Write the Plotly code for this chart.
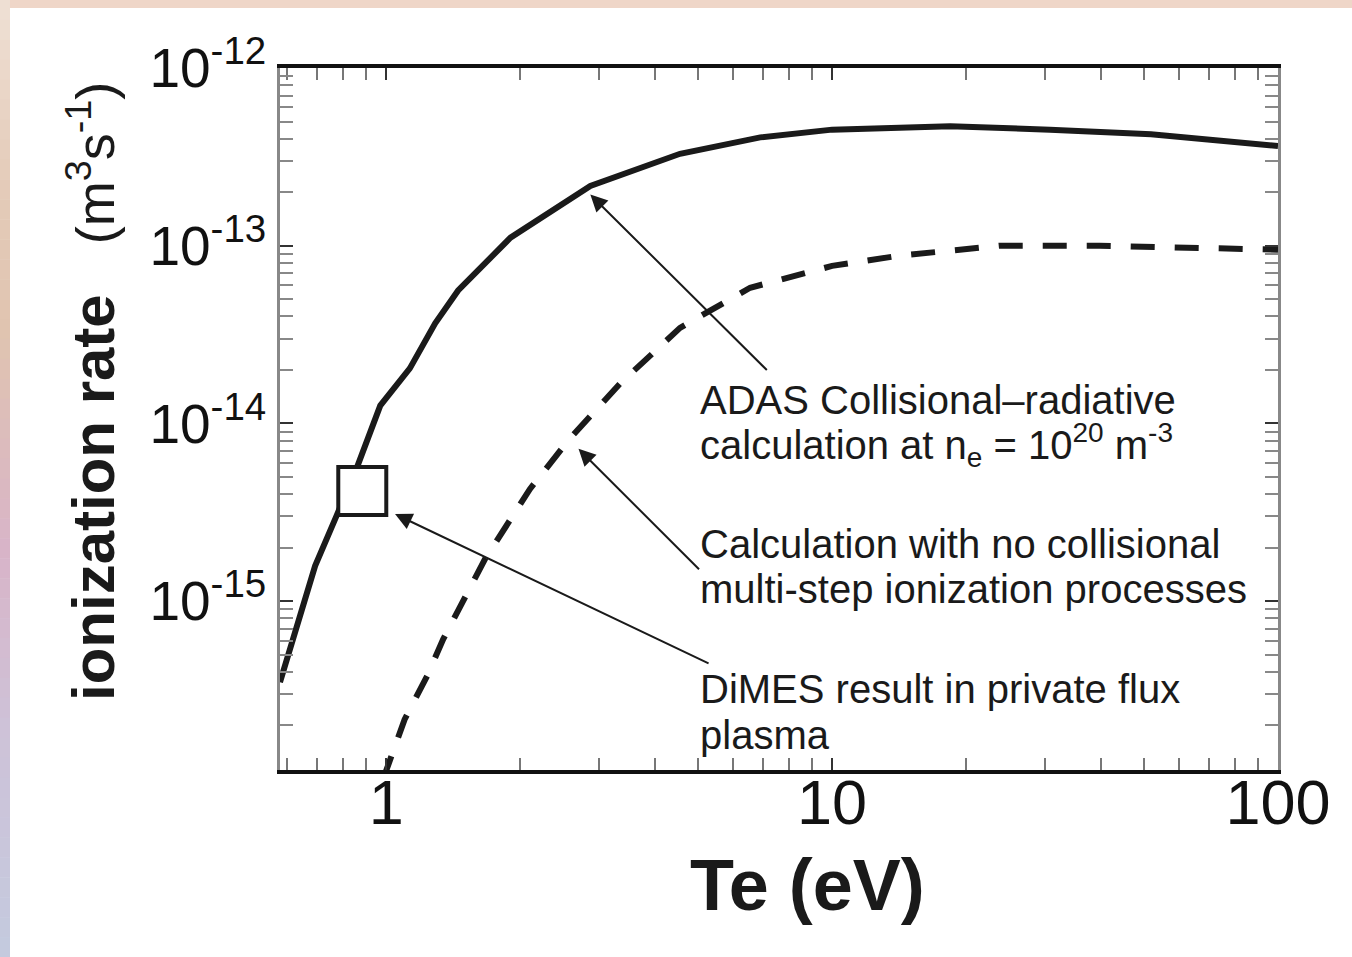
import numpy as np
import plotly.graph_objects as go

# ---- data -------------------------------------------------------------
# ADAS collisional-radiative ionization rate (m^3 s^-1) vs Te (eV)
te_adas = [0.578, 0.641, 0.693, 0.773, 0.861, 0.97, 1.13, 1.288, 1.45, 1.90,
           2.87, 4.56, 6.9, 10.0, 18.4, 30.8, 51.9, 100.0]
rate_adas = [3.5e-16, 8.2e-16, 1.58e-15, 3.0e-15, 5.7e-15, 1.26e-14, 2.04e-14,
             3.66e-14, 5.6e-14, 1.11e-13, 2.17e-13, 3.29e-13, 4.07e-13, 4.5e-13,
             4.7e-13, 4.5e-13, 4.24e-13, 3.64e-13]

# calculation without collisional multi-step ionization
te_single = [0.985, 1.10, 1.236, 1.342, 1.667, 2.10, 2.58, 3.35, 4.56, 6.55,
             10.0, 14.2, 23.8, 39.8, 100.0]
rate_single = [1.0e-16, 2.16e-16, 3.8e-16, 6.1e-16, 1.73e-15, 4.27e-15, 8.2e-15,
               1.68e-14, 3.45e-14, 5.8e-14, 7.7e-14, 8.8e-14, 1.0e-13, 1.0e-13,
               9.5e-14]

# DiMES measurement in private flux plasma
te_dimes = [0.884]
rate_dimes = [4.17e-15]

x_tickvals = [1, 10, 100]
x_ticktext = ["1", "10", "100"]
y_tickvals = [1e-15, 1e-14, 1e-13, 1e-12]
y_ticktext = ["10<sup>-15</sup>", "10<sup>-14</sup>", "10<sup>-13</sup>", "10<sup>-12</sup>"]

# ---- layout geometry ---------------------------------------------------
W, H = 1352, 957
ML, MR, MT, MB = 280, 74, 68, 187
PW, PH = W - ML - MR, H - MT - MB

def px(x):
    return (x - ML) / PW

def py(y):
    return (H - MB - y) / PH

FONT = "Liberation Sans, Arial, Helvetica, sans-serif"

fig = go.Figure()

fig.add_trace(go.Scatter(
    x=te_adas, y=rate_adas, mode="lines",
    line=dict(color="#1a1a1a", width=6), showlegend=False))
fig.add_trace(go.Scatter(
    x=te_single, y=rate_single, mode="lines",
    line=dict(color="#1a1a1a", width=6, dash="24px,20px"), showlegend=False))
fig.add_trace(go.Scatter(
    x=te_dimes, y=rate_dimes, mode="markers",
    marker=dict(symbol="square", size=48, color="white",
                line=dict(color="#1a1a1a", width=4)),
    showlegend=False))

minor_x = [0.6, 0.7, 0.8, 0.9] + [m for m in range(2, 10)] + [m * 10 for m in range(2, 10)]
minor_y = [m * 10.0 ** e for e in (-16, -15, -14, -13) for m in range(2, 10)]
minor_y = [v for v in minor_y if v > 1.13e-16]

fig.update_xaxes(
    type="log", range=[np.log10(0.578), 2.0],
    tickvals=x_tickvals, ticktext=x_ticktext,
    ticks="inside", ticklen=12, tickwidth=2, tickcolor="#333",
    minor=dict(tickvals=minor_x, ticks="inside", ticklen=12, tickwidth=2, tickcolor="#777"),
    showline=True, linecolor="#111", linewidth=4, mirror="ticks",
    showgrid=False, zeroline=False,
    ticklabelstandoff=-26,
    tickfont=dict(family=FONT, size=63, color="#111"),
)
fig.update_yaxes(
    type="log", range=[-15.95, -12.0],
    tickvals=y_tickvals, ticktext=y_ticktext,
    ticks="inside", ticklen=13, tickwidth=2, tickcolor="#333",
    minor=dict(tickvals=minor_y, ticks="inside", ticklen=13, tickwidth=2, tickcolor="#888"),
    showline=True, linecolor="#888", linewidth=2.5, mirror="ticks",
    showgrid=False, zeroline=False,
    tickfont=dict(family=FONT, size=55, color="#111"),
)

# ---- frame background strips -------------------------------------------
shapes = []
shapes.append(dict(type="rect", xref="paper", yref="paper", layer="below",
                   x0=px(0), x1=px(W), y0=py(0), y1=py(8),
                   fillcolor="#efd6c8", line=dict(width=0)))
stops = [(0, (239, 224, 212)), (183, (228, 203, 185)), (330, (224, 196, 176)),
         (550, (216, 180, 200)), (730, (206, 194, 216)), (957, (196, 202, 222))]
nb = 48
for i in range(nb):
    y0 = H * i / nb
    y1 = H * (i + 1) / nb
    ym = (y0 + y1) / 2
    for (a, ca), (b, cb) in zip(stops[:-1], stops[1:]):
        if a <= ym <= b:
            t = (ym - a) / (b - a)
            c = tuple(int(round(ca[k] + (cb[k] - ca[k]) * t)) for k in range(3))
            break
    shapes.append(dict(type="rect", xref="paper", yref="paper", layer="below",
                       x0=px(0), x1=px(10), y0=py(y0), y1=py(y1 + 0.5),
                       fillcolor="rgb(%d,%d,%d)" % c, line=dict(width=0)))

# ---- annotations ---------------------------------------------------------
ann = []

def text_line(txt, x, y, size=40):
    ann.append(dict(text=txt, xref="paper", yref="paper", x=px(x), y=py(y),
                    xanchor="left", yanchor="middle", showarrow=False,
                    font=dict(family=FONT, size=size, color="#1a1a1a")))

text_line("ADAS Collisional\u2013radiative", 698, 400)
text_line("calculation at n<sub>e</sub> = 10<sup>20</sup> m<sup>-3</sup>", 698, 445)
text_line("Calculation with no collisional", 698, 544)
text_line("multi-step ionization processes", 698, 589)
text_line("DiMES result in private flux", 698, 689)
text_line("plasma", 698, 735)

def arrow(xt, yt, ax, ay):
    ann.append(dict(text="", x=np.log10(xt), y=np.log10(yt), xref="x", yref="y",
                    ax=ax, ay=ay, showarrow=True, arrowhead=2, arrowsize=1.7,
                    arrowwidth=2, arrowcolor="#1a1a1a", standoff=0))

arrow(2.87, 1.94e-13, 178, 177)
arrow(2.70, 7.2e-15, 122, 122)
arrow(1.047, 3.09e-15, 315, 150)

# axis titles
ann.append(dict(text="<b>Te (eV)</b>", xref="paper", yref="paper",
                x=px(807), y=py(885), xanchor="center", yanchor="middle", showarrow=False,
                font=dict(family=FONT, size=72, color="#1a1a1a")))
ann.append(dict(text="<b>ionization rate</b>\u00a0\u00a0\u00a0<span style=\"font-size:54px\">(m<sup>3</sup>s<sup>-1</sup>)</span>",
                xref="paper", yref="paper", x=px(92), y=py(392),
                xanchor="center", yanchor="middle", textangle=-90, showarrow=False,
                font=dict(family=FONT, size=60, color="#1a1a1a")))

fig.update_layout(
    width=W, height=H,
    margin=dict(l=ML, r=MR, t=MT, b=MB, pad=0),
    paper_bgcolor="white", plot_bgcolor="white",
    shapes=shapes, annotations=ann, showlegend=False,
    font=dict(family=FONT, color="#1a1a1a"),
)

fig.write_html("out.html")
